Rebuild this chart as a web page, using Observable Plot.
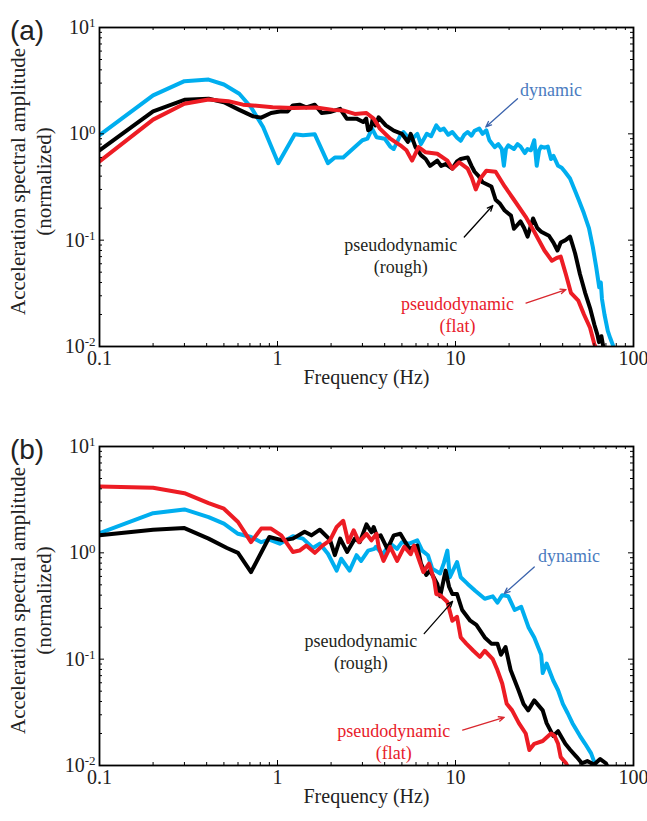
<!DOCTYPE html>
<html><head><meta charset="utf-8">
<script src="https://cdn.jsdelivr.net/npm/d3@7"></script>
<script src="https://cdn.jsdelivr.net/npm/@observablehq/plot@0.6"></script>
<style>body{margin:0;background:#fff;} #chart{width:647px;} svg{display:block;} svg text{font-family:'Liberation Serif','Times New Roman',serif;}</style>
</head><body><div id="chart"></div>
<script>
// [frequency (Hz), normalized amplitude]
const aDynamic = [[0.1,0.97],[0.2,2.3],[0.3,3.13],[0.41,3.24],[0.5,2.91],[0.61,2.38],[0.71,1.78],[0.83,1.16],[1.01,0.53],[1.25,0.99],[1.39,0.97],[1.62,0.99],[1.92,0.53],[2.1,0.6],[2.34,0.6],[2.72,0.75],[3.0,0.87],[3.2,0.9],[3.4,1.12],[3.6,0.93],[4.0,0.9],[4.3,0.76],[4.5,0.72],[4.9,0.97],[5.1,1.04],[5.6,0.87],[6.1,1.0],[6.4,0.8],[6.9,1.0],[7.3,0.95],[7.8,1.2],[8.2,1.08],[8.6,1.12],[9.1,0.98],[9.6,1.04],[10.2,0.92],[10.7,0.86],[11.2,0.98],[11.7,1.04],[12.3,0.96],[12.8,1.07],[13.6,1.12],[14.2,1.0],[14.9,1.08],[15.5,0.87],[16.6,0.75],[17.4,0.8],[18.2,0.72],[18.7,0.5],[19.2,0.72],[19.8,0.78],[21.3,0.72],[22.3,0.8],[23.2,0.76],[24.5,0.66],[25.4,0.72],[26.5,0.7],[27.7,0.87],[28.6,0.5],[29.5,0.7],[30.3,0.76],[31.6,0.74],[33,0.76],[34.4,0.58],[35.5,0.62],[37.7,0.5],[39.5,0.48],[41.2,0.44],[44,0.38],[47,0.29],[49.2,0.24],[52.6,0.18],[56.2,0.13],[59.1,0.086],[61.7,0.056],[64.2,0.036],[65.5,0.04],[66.5,0.028],[68.7,0.02],[71.7,0.014],[74,0.012],[78,0.0095]];
const aRough = [[0.1,0.70],[0.2,1.63],[0.3,2.09],[0.41,2.14],[0.5,1.98],[0.61,1.68],[0.73,1.46],[0.81,1.42],[0.92,1.57],[1.05,1.63],[1.14,1.62],[1.22,1.85],[1.33,1.88],[1.45,1.77],[1.62,1.88],[1.77,1.57],[1.97,1.6],[2.25,1.72],[2.45,1.39],[2.78,1.39],[3.03,1.29],[3.15,1.39],[3.23,1.08],[3.34,1.12],[3.43,1.39],[3.55,1.2],[3.7,1.43],[4.06,1.2],[4.5,1.07],[5.0,1.0],[5.4,0.84],[5.6,1.0],[5.96,0.75],[6.4,0.63],[6.8,0.58],[7.2,0.5],[7.9,0.56],[8.3,0.5],[8.8,0.52],[9.6,0.47],[10.2,0.55],[10.7,0.58],[11.7,0.6],[12.3,0.5],[12.8,0.44],[13.5,0.4],[14.2,0.35],[15.9,0.32],[16.8,0.24],[17.8,0.22],[18.9,0.19],[20.5,0.17],[21.3,0.128],[23.2,0.15],[24.3,0.13],[25.4,0.108],[27.3,0.16],[28.8,0.13],[30.3,0.12],[33.5,0.11],[35.5,0.095],[37.4,0.08],[39,0.095],[41.5,0.1],[44,0.108],[45.5,0.09],[47,0.075],[50,0.048],[53.5,0.032],[57,0.023],[60.3,0.016],[62.6,0.013],[64,0.011],[66,0.0125],[68,0.0095]];
const aFlat = [[0.1,0.55],[0.2,1.36],[0.3,1.92],[0.41,2.1],[0.53,2.03],[0.64,1.88],[0.94,1.78],[1.22,1.75],[1.65,1.77],[2.05,1.68],[2.33,1.66],[2.72,1.54],[3.16,1.57],[3.47,1.39],[3.76,1.12],[4.3,0.9],[4.9,0.78],[5.3,0.7],[5.7,0.56],[6.2,0.75],[6.8,0.67],[7.9,0.65],[9.0,0.56],[9.6,0.47],[10.5,0.54],[11.7,0.47],[12.4,0.38],[13,0.3],[13.8,0.38],[14.9,0.45],[16.8,0.44],[18.9,0.32],[21.3,0.24],[24.8,0.166],[27.7,0.12],[31.6,0.08],[34.8,0.064],[37,0.068],[39,0.07],[41.8,0.047],[44.5,0.032],[49,0.027],[52.7,0.02],[57,0.015],[60.3,0.0105],[62,0.0095]];

const bDynamic = [[0.1,1.53],[0.2,2.36],[0.3,2.56],[0.41,2.17],[0.5,1.88],[0.6,1.51],[0.71,1.41],[0.81,1.26],[0.9,1.33],[1.03,1.22],[1.22,1.43],[1.39,1.36],[1.58,1.11],[1.73,1.22],[1.92,0.98],[2.15,0.68],[2.28,0.88],[2.54,0.68],[2.78,0.95],[2.95,0.84],[3.23,1.05],[3.5,1.09],[3.57,1.14],[3.9,0.97],[4.3,1.22],[4.7,1.09],[5.0,1.26],[5.5,1.22],[6.1,1.31],[6.5,1.05],[7.0,0.95],[7.4,0.71],[8.2,0.64],[8.6,0.8],[9.0,1.05],[9.3,0.59],[10.2,0.82],[10.7,0.59],[11.7,0.51],[12.9,0.44],[14.6,0.37],[16.2,0.39],[17.2,0.34],[18.3,0.4],[19.8,0.39],[21.5,0.29],[23.4,0.31],[25.7,0.2],[27.7,0.16],[30.3,0.11],[30.9,0.074],[32.5,0.091],[35.4,0.063],[37.7,0.051],[40.1,0.038],[42.7,0.031],[45.4,0.025],[50,0.019],[53.5,0.016],[57.8,0.013],[60.3,0.0107],[62,0.0095]];
const bRough = [[0.1,1.46],[0.2,1.65],[0.3,1.71],[0.41,1.36],[0.52,1.11],[0.6,1.0],[0.71,0.66],[0.9,1.41],[1.07,1.31],[1.22,1.36],[1.42,1.58],[1.55,1.46],[1.73,1.65],[1.97,1.33],[2.1,0.95],[2.25,1.36],[2.46,1.02],[2.72,1.36],[2.9,1.26],[3.16,1.85],[3.37,1.56],[3.47,1.75],[3.63,1.41],[3.8,1.46],[4.14,1.09],[4.5,1.46],[4.9,1.51],[5.15,1.31],[5.5,1.09],[6.1,1.17],[6.4,0.79],[6.85,0.62],[7.2,0.68],[7.9,0.51],[8.2,0.39],[8.8,0.68],[9.2,0.48],[9.6,0.41],[10.2,0.41],[10.9,0.29],[12.1,0.23],[13.1,0.21],[14.6,0.16],[15.9,0.14],[17.2,0.14],[18,0.11],[19.1,0.13],[20.4,0.079],[22.6,0.051],[24.1,0.038],[25.6,0.033],[27.7,0.041],[30.9,0.033],[32.5,0.025],[35.4,0.019],[37.7,0.021],[41.4,0.016],[44.2,0.014],[48,0.012],[51.3,0.0105],[55,0.011],[60,0.0102],[65,0.0115],[70,0.0105],[72,0.0095]];
const bFlat = [[0.1,4.2],[0.2,4.09],[0.3,3.64],[0.41,2.94],[0.5,2.6],[0.6,1.95],[0.71,1.26],[0.81,1.69],[0.92,1.69],[1.05,1.46],[1.22,1.02],[1.33,1.05],[1.45,1.17],[1.62,1.0],[1.79,1.17],[1.97,1.31],[2.15,1.75],[2.34,2.0],[2.5,1.26],[2.68,1.63],[2.87,1.26],[3.16,1.51],[3.37,1.31],[3.6,1.51],[3.7,1.14],[3.94,0.84],[4.3,1.14],[4.7,0.84],[5.15,1.14],[5.6,0.97],[5.85,1.17],[6.3,0.82],[6.6,0.66],[7.1,0.79],[7.6,0.55],[7.8,0.41],[8.2,0.4],[9.0,0.345],[9.6,0.23],[10.2,0.25],[10.7,0.16],[11.5,0.14],[12.6,0.12],[13.7,0.105],[14.6,0.12],[16.2,0.1],[17.2,0.079],[18.3,0.059],[19.4,0.038],[20.8,0.033],[22.7,0.025],[24.8,0.02],[26,0.014],[27.7,0.016],[30.9,0.017],[34.4,0.02],[36,0.019],[37.7,0.016],[39,0.012],[41.8,0.0105],[43,0.0095]];

const xTicks = [0.1, 1, 10, 100];
const xMinor = [0.2,0.3,0.4,0.5,0.6,0.7,0.8,0.9,2,3,4,5,6,7,8,9,20,30,40,50,60,70,80,90];
const yTicks = [0.01, 0.1, 1, 10];
const yMinor = [0.02,0.03,0.04,0.05,0.06,0.07,0.08,0.09,0.2,0.3,0.4,0.5,0.6,0.7,0.8,0.9,2,3,4,5,6,7,8,9];

const BLUE = "#00aeef", BLACK = "#000000", RED = "#ed1c24";
const SERIF = "'Liberation Serif', 'Times New Roman', serif";
const SANS = "'Liberation Sans', Arial, sans-serif";

// annotation anchors [frequency, amplitude]
const aLabels = [
  {text: "dynamic", f: 34.4, a: 2.67, color: "#4a7cc0"},
  {text: "pseudodynamic\n(rough)", f: 4.93, a: 0.0728, color: "#231f20"},
  {text: "pseudodynamic\n(flat)", f: 10.25, a: 0.0201, color: "#e8202a"}
];
const aArrows = [
  {f1: 22.3, a1: 2.14, f2: 14.8, a2: 1.16, color: "#3c64ad"},
  {f1: 11.2, a1: 0.107, f2: 16.2, a2: 0.212, color: "#000000"},
  {f1: 24.9, a1: 0.0256, f2: 41.8, a2: 0.0343, color: "#d9272e"}
];
const bLabels = [
  {text: "dynamic", f: 43.4, a: 0.947, color: "#4a7cc0"},
  {text: "pseudodynamic\n(rough)", f: 2.94, a: 0.119, color: "#231f20"},
  {text: "pseudodynamic\n(flat)", f: 4.5, a: 0.017, color: "#e8202a"}
];
const bArrows = [
  {f1: 27.7, a1: 0.736, f2: 18.8, a2: 0.414, color: "#3c64ad"},
  {f1: 6.67, a1: 0.174, f2: 9.63, a2: 0.35, color: "#000000"},
  {f1: 10.97, a1: 0.0215, f2: 18.8, a2: 0.0284, color: "#d9272e"}
];

function panel(tag, series, labels, arrows, height, marginBottom) {
  const W = 647, mL = 99, mR = 14, mT = 27;
  const iw = W - mL - mR, ih = height - mT - marginBottom;
  const svg = Plot.plot({
    width: W, height, marginLeft: mL, marginRight: mR, marginTop: mT, marginBottom,
    style: {fontFamily: SERIF, fontSize: "20px", background: "#fff", color: "#222"},
    x: {type: "log", domain: [0.1, 100]},
    y: {type: "log", domain: [0.01, 10]},
    marks: [
      ...series.map(s => Plot.line(s.data, {x: d => d[0], y: d => d[1], stroke: s.color, strokeWidth: 4, strokeLinejoin: "round", strokeLinecap: "round", clip: true})),
      // inward ticks on all four sides
      Plot.tickX(xTicks, {x: d => d, insetTop: ih - 5, stroke: "#000", strokeWidth: 1}),
      Plot.tickX(xMinor, {x: d => d, insetTop: ih - 3, stroke: "#000", strokeWidth: 1}),
      Plot.tickX(xTicks, {x: d => d, insetBottom: ih - 5, stroke: "#000", strokeWidth: 1}),
      Plot.tickX(xMinor, {x: d => d, insetBottom: ih - 3, stroke: "#000", strokeWidth: 1}),
      Plot.tickY(yTicks, {y: d => d, insetRight: iw - 5, stroke: "#000", strokeWidth: 1}),
      Plot.tickY(yMinor, {y: d => d, insetRight: iw - 3, stroke: "#000", strokeWidth: 1}),
      Plot.tickY(yTicks, {y: d => d, insetLeft: iw - 5, stroke: "#000", strokeWidth: 1}),
      Plot.tickY(yMinor, {y: d => d, insetLeft: iw - 3, stroke: "#000", strokeWidth: 1}),
      Plot.frame({stroke: "#000", strokeWidth: 1.8}),
      Plot.axisX({ticks: xTicks, tickFormat: d => String(d), tickSize: 0, tickPadding: 4, fontSize: 20, fontFamily: SERIF, label: null}),
      Plot.axisY({ticks: yTicks, tickFormat: d => "10^" + Math.round(Math.log10(d)), tickSize: 0, tickPadding: 4, fontSize: 20, fontFamily: SERIF, label: null}),
      ...arrows.map(r => Plot.arrow([r], {x1: "f1", y1: "a1", x2: "f2", y2: "a2", stroke: r.color, strokeWidth: 1.3, headLength: 7, headAngle: 45})),
      ...labels.map(l => Plot.text([l], {x: "f", y: "a", text: "text", fill: l.color, fontSize: 18, fontFamily: SERIF, lineHeight: 1.22})),
      Plot.text(["Frequency (Hz)"], {frameAnchor: "bottom", textAnchor: "middle", dy: 37, fontSize: 20, fontFamily: SERIF, fill: "#222"}),
      Plot.text(["Acceleration spectral amplitude"], {frameAnchor: "left", textAnchor: "middle", rotate: -90, dx: -81, dy: -5.5, fontSize: 21, fontFamily: SERIF, fill: "#222"}),
      Plot.text(["(normalized)"], {frameAnchor: "left", textAnchor: "middle", rotate: -90, dx: -55, dy: -5.5, fontSize: 21, fontFamily: SERIF, fill: "#222"}),
      Plot.text([tag], {frameAnchor: "top-left", textAnchor: "middle", dx: -72.5, dy: -7.5, fontSize: 28, fontFamily: SANS, fill: "#222"})
    ]
  });
  const ns = "http://www.w3.org/2000/svg";
  svg.querySelectorAll('g[aria-label="y-axis tick label"] text').forEach(t => {
    const parts = t.textContent.split("^");
    if (parts.length === 2) {
      t.textContent = "";
      const base = document.createElementNS(ns, "tspan");
      base.textContent = parts[0];
      const exp = document.createElementNS(ns, "tspan");
      exp.setAttribute("dy", "-0.5em");
      exp.setAttribute("font-size", "13");
      exp.textContent = parts[1];
      t.append(base, exp);
    }
  });
  svg.querySelectorAll("text").forEach(t => {
    if (t.textContent === "(a)" || t.textContent === "(b)") t.style.fontFamily = SANS;
  });
  return svg;
}

const chart = document.getElementById("chart");
chart.append(panel("(a)", [
  {data: aDynamic, color: BLUE}, {data: aRough, color: BLACK}, {data: aFlat, color: RED}
], aLabels, aArrows, 419, 73));
chart.append(panel("(b)", [
  {data: bDynamic, color: BLUE}, {data: bRough, color: BLACK}, {data: bFlat, color: RED}
], bLabels, bArrows, 402, 56));
</script>
</body></html>
